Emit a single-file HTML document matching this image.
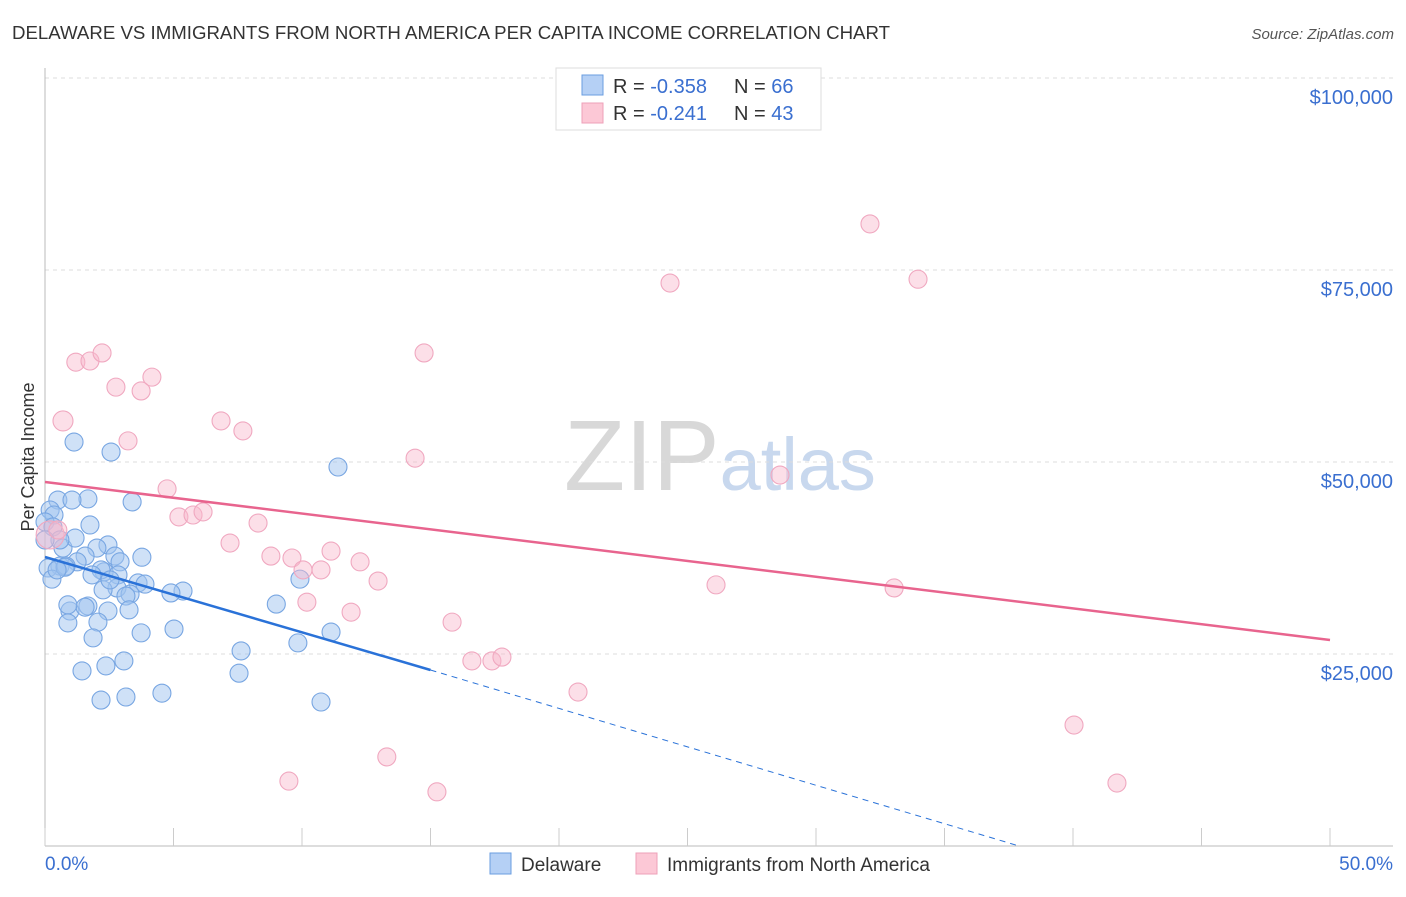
<!DOCTYPE html>
<html><head><meta charset="utf-8"><style>
body{margin:0;background:#fff;font-family:"Liberation Sans",sans-serif;}
svg text{font-family:"Liberation Sans",sans-serif;}
</style></head><body>
<svg id="chart" width="1406" height="892" xmlns="http://www.w3.org/2000/svg">
<text x="12" y="39" font-size="18.6" fill="#333" textLength="878" lengthAdjust="spacingAndGlyphs">DELAWARE VS IMMIGRANTS FROM NORTH AMERICA PER CAPITA INCOME CORRELATION CHART</text>
<text x="1394" y="39" font-size="15" fill="#555" font-style="italic" text-anchor="end">Source: ZipAtlas.com</text>
<text x="720" y="490" font-size="100" fill="#ddd" text-anchor="middle" font-family="Liberation Serif"><tspan fill="#d8d8d8">ZIP</tspan><tspan fill="#c8d8ee" font-family="Liberation Sans" font-size="74">atlas</tspan></text>
<text transform="translate(34,457) rotate(-90)" font-size="18" fill="#333" text-anchor="middle">Per Capita Income</text>
<g id="grid"></g>
<g id="axes"></g>
<g id="pts"></g>
<g id="trend"></g>
<g>
<rect x="556" y="68" width="265" height="62" fill="#fff" stroke="#ddd"/>
<rect x="582" y="75" width="21" height="20" fill="#b5d0f5" stroke="#6a9ee0"/>
<text x="613" y="93" font-size="20" fill="#333">R = <tspan fill="#3a6fd0">-0.358</tspan></text>
<text x="734" y="93" font-size="20" fill="#333">N = <tspan fill="#3a6fd0">66</tspan></text>
<rect x="582" y="103" width="21" height="20" fill="#fcc8d6" stroke="#eea0b8"/>
<text x="613" y="120" font-size="20" fill="#333">R = <tspan fill="#3a6fd0"> -0.241</tspan></text>
<text x="734" y="120" font-size="20" fill="#333">N = <tspan fill="#3a6fd0">43</tspan></text>
</g>
<g>
<rect x="490" y="853" width="21" height="21" fill="#b5d0f5" stroke="#6a9ee0"/>
<text x="521" y="871" font-size="19" fill="#333">Delaware</text>
<rect x="636" y="853" width="21" height="21" fill="#fcc8d6" stroke="#eea0b8"/>
<text x="667" y="871" font-size="19" fill="#333">Immigrants from North America</text>
</g>
<text x="45" y="870" font-size="19" fill="#3a6fd0">0.0%</text>
<text x="1393" y="870" font-size="19" fill="#3a6fd0" text-anchor="end">50.0%</text>
</svg>
<script>
const yTicks=[25000,50000,75000,100000];
const yTickLabels=["$25,000","$50,000","$75,000","$100,000"];
const xTicks=[0,5,10,15,20,25,30,35,40,45,50];
const blueX=[1.13,2.57,11.4,0.5,1.67,1.05,3.39,0.2,0.35,0,1.75,0.31,0.7,2.45,2.02,3.77,1.56,2.72,2.92,1.25,0.58,0.82,0.12,2.3,2.18,2.84,3.62,0.27,2.8,2.26,3.89,5.37,4.9,9.92,3.31,3.15,1.67,0.97,2.45,3.27,1.56,0.89,2.06,9.0,5.02,3.74,1.87,7.63,9.84,11.13,1.44,2.37,3.07,7.55,2.18,3.15,4.55,10.74,0.78,0.47,1.17,0.58,0,2.53,0.89,1.83];
const blueY=[52600,51300,49350,45050,45200,45050,44800,43750,43100,42200,41800,41550,38800,39200,38800,37600,37750,37750,37000,37000,36450,36450,36200,35700,35950,35300,34250,34750,33600,33350,34100,33200,32950,34750,32800,32550,31250,30600,30600,30750,31100,29050,29150,31500,28250,27750,27100,25400,26450,27850,22800,23450,24100,22500,19000,19400,19900,18750,36300,35950,40100,39850,39850,34650,31400,35300];
const pinkX=[0.7,1.2,1.75,2.22,2.76,3.74,4.16,3.23,6.85,7.7,4.75,5.21,5.76,6.15,7.2,8.29,8.79,9.61,10.04,10.74,11.13,12.26,12.96,11.91,10.19,15.84,16.61,17.39,17.78,20.74,14.4,14.75,24.32,32.1,33.97,28.6,26.11,33.04,40.04,41.71,13.3,9.49,15.25,0.2,0.5];
const pinkY=[55350,63000,63150,64200,59750,59250,61050,52750,55350,54050,46500,42850,43100,43500,39450,42050,37750,37500,35950,35950,38400,37000,34500,30450,31750,29150,24100,24100,24600,20050,50500,64200,73300,81000,73800,48300,34000,33600,15750,8200,11600,8450,7050,40500,41150];
const pinkR=[10,9,9,9,9,9,9,9,9,9,9,9,9,9,9,9,9,9,9,9,9,9,9,9,9,9,9,9,9,9,9,9,9,9,9,9,9,9,9,9,9,9,9,14,9];
const blueTrend=[0,37630,15,22917,37.9,0];
const pinkTrend=[0,47400,50,26820];
const NS="http://www.w3.org/2000/svg";
const X=v=>45+v*25.7, Y=v=>846-v/25000*192;
function mk(tag,attrs,parent){const e=document.createElementNS(NS,tag);for(const k in attrs)e.setAttribute(k,attrs[k]);parent.appendChild(e);return e;}
const grid=document.getElementById('grid'),axes=document.getElementById('axes'),pts=document.getElementById('pts'),tr=document.getElementById('trend');
yTicks.forEach((t,i)=>{
 const l=mk('line',{x1:45,x2:1393,y1:Y(t),y2:Y(t),stroke:'#ddd','stroke-dasharray':'4,4'},grid);
 
 
 const tx=mk('text',{x:1393,y:Y(t)+26,'font-size':20,fill:'#3a6fd0','text-anchor':'end'},grid);
 tx.textContent=yTickLabels[i];
 
 
});
const ya=mk('line',{x1:45,x2:45,y1:68,y2:846,stroke:'#bbb'},axes);


const xa=mk('line',{x1:45,x2:1393,y1:846,y2:846,stroke:'#bbb'},axes);


xTicks.forEach(t=>{const l=mk('line',{x1:X(t),x2:X(t),y1:828,y2:846,stroke:'#ccc'},axes);
 
 });
blueX.forEach((v,i)=>{const c=mk('circle',{cx:X(v),cy:Y(blueY[i]),r:9,fill:'rgba(160,196,240,0.5)',stroke:'#78a6e2','stroke-width':1.1},pts);
 
 });
pinkX.forEach((v,i)=>{const c=mk('circle',{cx:X(v),cy:Y(pinkY[i]),r:pinkR[i],fill:'rgba(248,184,204,0.45)',stroke:'#f0a8c0','stroke-width':1.1},pts);
 
 });
const b1=mk('line',{x1:X(blueTrend[0]),y1:Y(blueTrend[1]),x2:X(blueTrend[2]),y2:Y(blueTrend[3]),stroke:'#2a72d8','stroke-width':2.5},tr);


const b2=mk('line',{x1:X(blueTrend[2]),y1:Y(blueTrend[3]),x2:X(blueTrend[4]),y2:Y(blueTrend[5]),stroke:'#2a72d8','stroke-width':1,'stroke-dasharray':'6,5'},tr);


const p1=mk('line',{x1:X(pinkTrend[0]),y1:Y(pinkTrend[1]),x2:X(pinkTrend[2]),y2:Y(pinkTrend[3]),stroke:'#e8648e','stroke-width':2.5},tr);


</script>
</body></html>
